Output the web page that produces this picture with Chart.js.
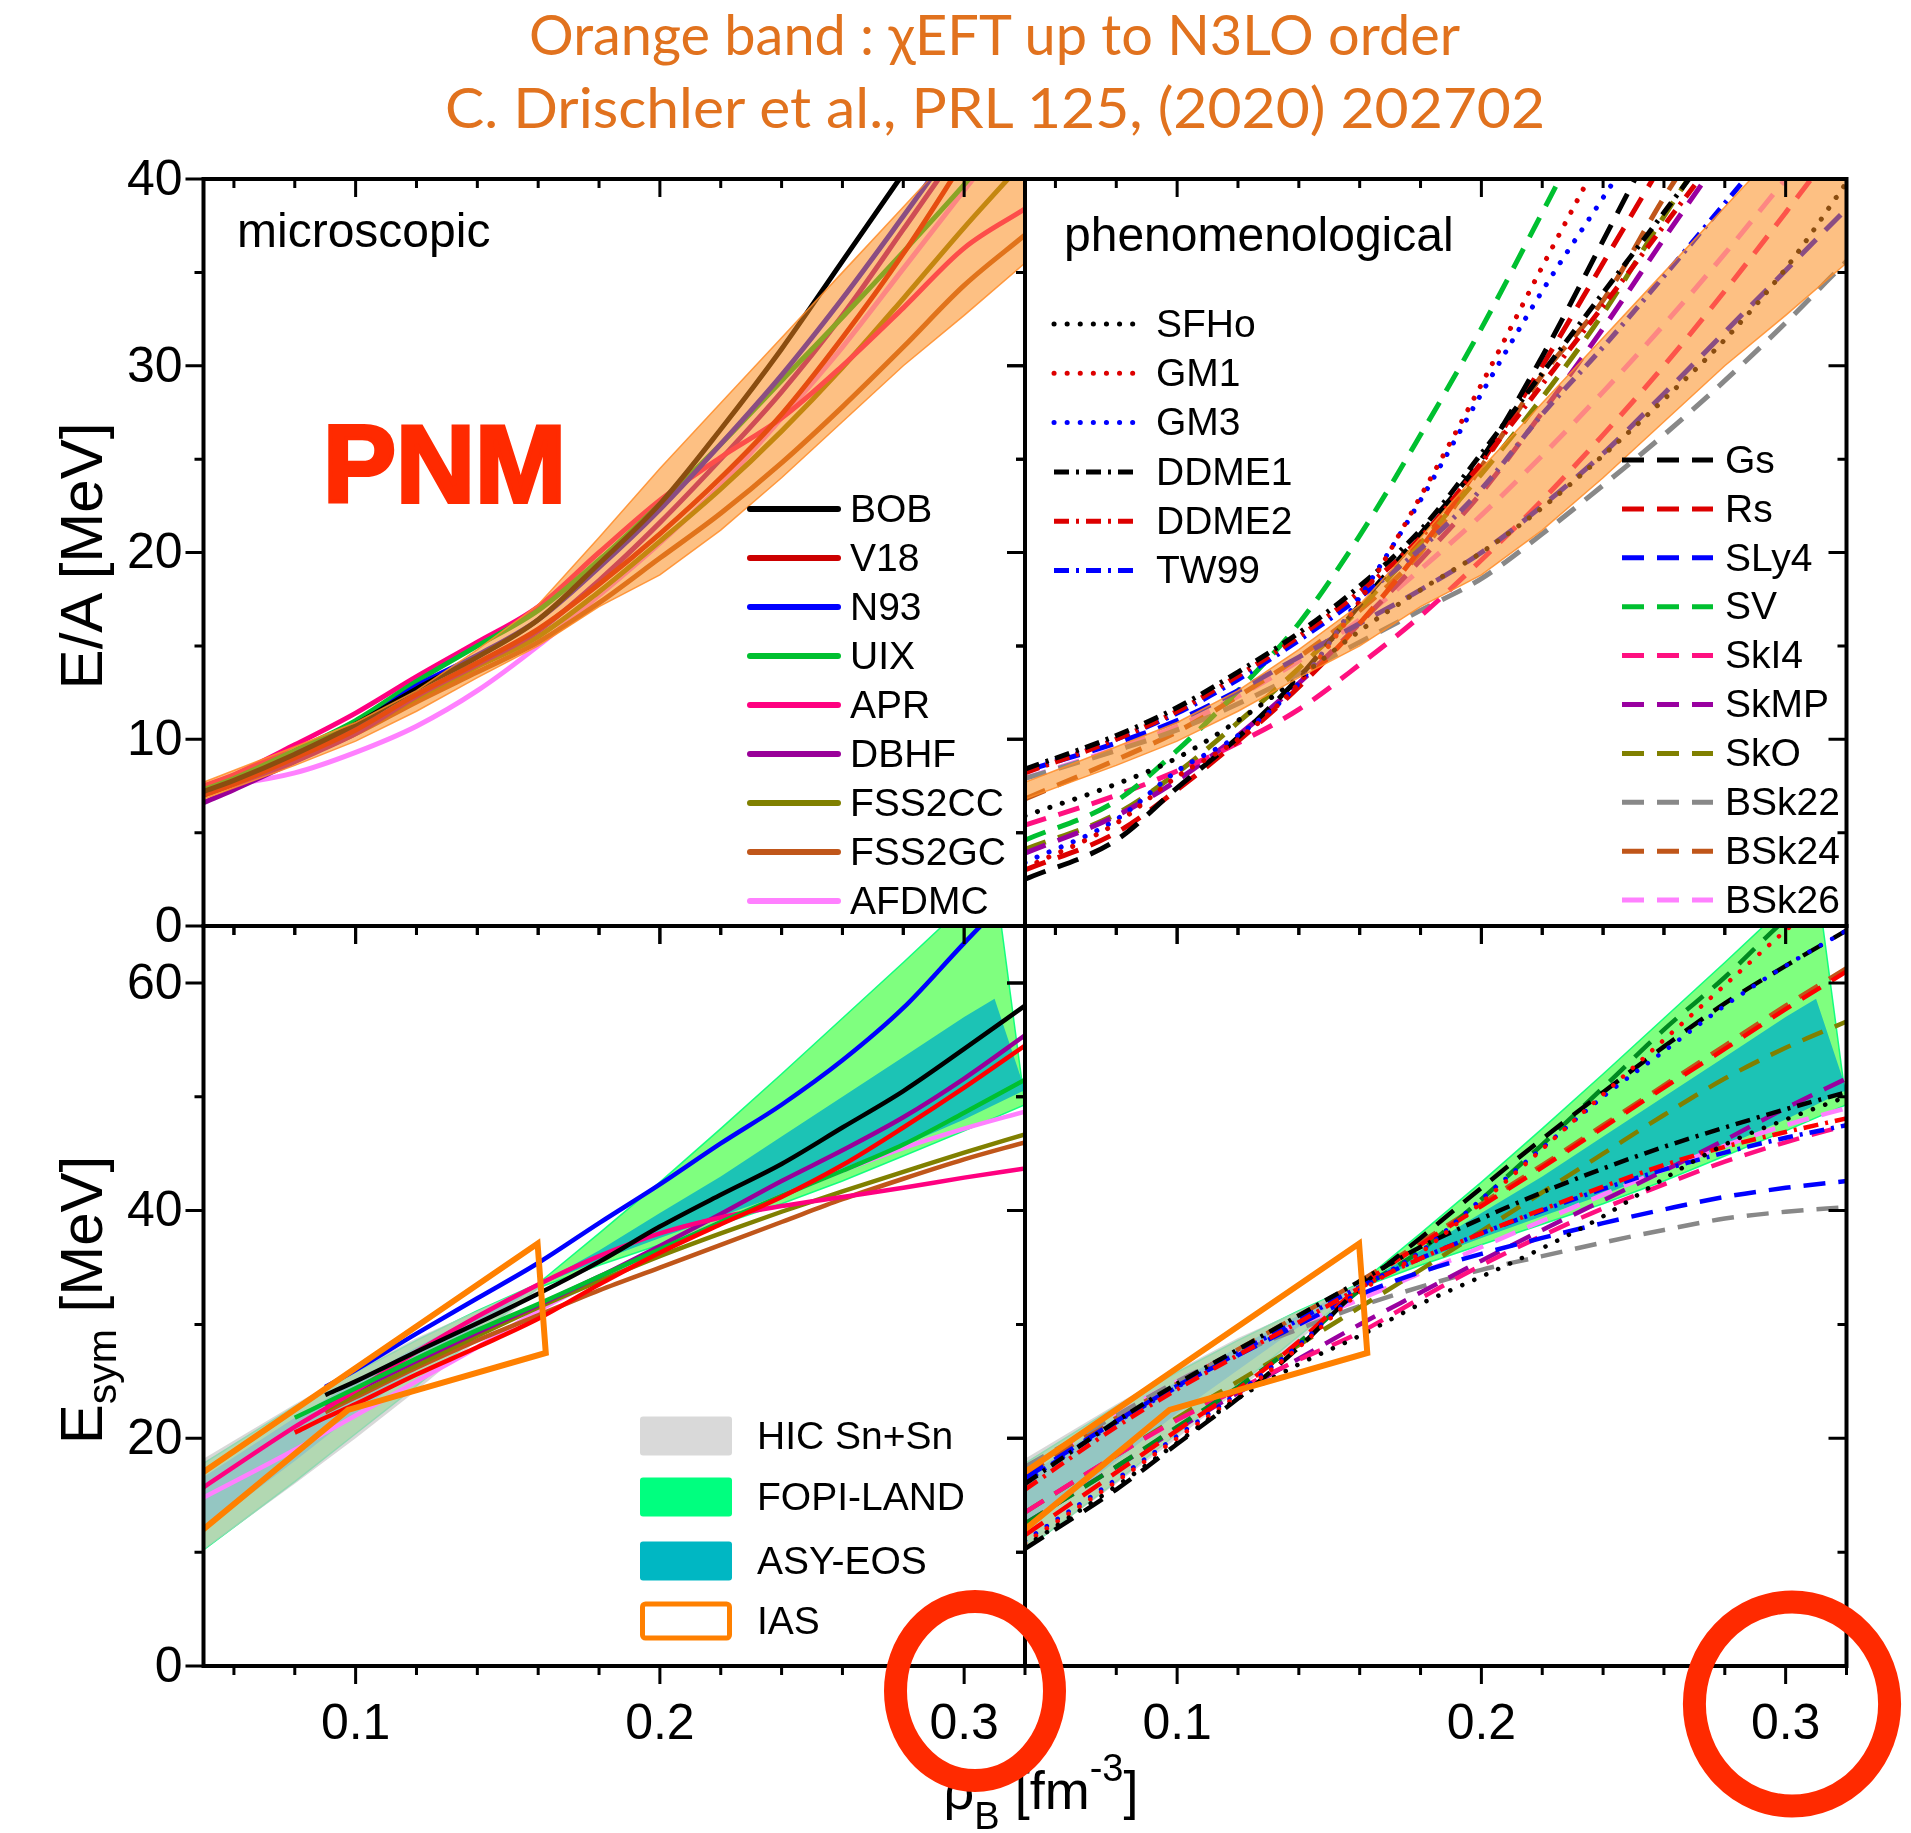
<!DOCTYPE html>
<html>
<head>
<meta charset="utf-8">
<title>PNM energy per particle and symmetry energy</title>
<script src="https://cdn.jsdelivr.net/npm/chart.js@4.4.1/dist/chart.umd.min.js"></script>
<style>
  body { margin: 0; background: #fff; }
  #page { position: relative; width: 1911px; height: 1833px; overflow: hidden; background: #fff; }
  #page canvas { position: absolute; left: 0; top: 0; }
  #overlay { position: absolute; left: 0; top: 0; pointer-events: none; }
</style>
</head>
<body>
<div id="page">
  <canvas id="tl" width="1911" height="1833"></canvas>
  <canvas id="tr" width="1911" height="1833"></canvas>
  <canvas id="bl" width="1911" height="1833"></canvas>
  <canvas id="br" width="1911" height="1833"></canvas>
  <svg id="overlay" width="1911" height="1833" viewBox="0 0 1911 1833">
    <g font-family="Lato, 'Open Sans', sans-serif" font-size="56" fill="#E1721E">
      <text x="529" y="55" textLength="931" lengthAdjust="spacingAndGlyphs">Orange band : χEFT up to N3LO order</text>
      <text x="445" y="128" textLength="1100" lengthAdjust="spacingAndGlyphs">C. Drischler et al., PRL 125, (2020) 202702</text>
    </g>
    <g font-family="'Liberation Sans', Arial, sans-serif" fill="#000">
      <text x="237" y="247" font-size="48">microscopic</text>
      <text x="1064" y="251" font-size="48">phenomenological</text>
      <text transform="translate(102,556) rotate(-90)" text-anchor="middle" font-size="60">E/A [MeV]</text>
      <text transform="translate(102,1300) rotate(-90)" text-anchor="middle" font-size="60">E<tspan dy="14" font-size="41">sym</tspan><tspan dy="-14"> [MeV]</tspan></text>
      <text x="1041" y="1809" text-anchor="middle" font-size="54">ρ<tspan dy="20" font-size="38">B</tspan><tspan dy="-20"> [fm</tspan><tspan dy="-28" font-size="38">-3</tspan><tspan dy="28">]</tspan></text>
    </g>
    <text x="323" y="502" font-family="'Liberation Sans', Arial, sans-serif" font-weight="bold" font-size="109" fill="#FF2A00" stroke="#FF2A00" stroke-width="4" textLength="243" lengthAdjust="spacingAndGlyphs">PNM</text>
    <ellipse cx="975" cy="1691" rx="79.5" ry="89.5" fill="none" stroke="#FF2A00" stroke-width="23"/>
    <ellipse cx="1792" cy="1704" rx="97.6" ry="102" fill="none" stroke="#FF2A00" stroke-width="23"/>
  </svg>
</div>

<script>
// ---- axes ----------------------------------------------------------------
const rhoMajor = [0.1, 0.2, 0.3];
const rhoMinor = [0.06, 0.08, 0.12, 0.14, 0.16, 0.18, 0.22, 0.24, 0.26, 0.28, 0.32];
const eaTicks = [0, 10, 20, 30, 40];
const eaMinor = [5, 15, 25, 35];
const esTicks = [0, 20, 40, 60];
const esMinor = [10, 30, 50];

// ---- E/A of pure neutron matter, microscopic (top left) ------------------
const rhoMic = [0.05, 0.06, 0.08, 0.10, 0.12, 0.14, 0.16, 0.18, 0.20, 0.22, 0.24, 0.26, 0.28, 0.30, 0.32];
const eaBOB    = [7.2, 7.8, 9.2, 10.8, 12.7, 14.4, 16.4, 19.4, 22.6, 26.6, 30.9, 35.6, 40.3, 45.0, 50.0];
const eaV18    = [7.0, 7.6, 9.0, 10.5, 12.4, 14.1, 15.9, 18.3, 21.0, 24.0, 27.4, 31.5, 36.0, 41.0, 46.0];
const eaN93    = [null, null, 9.2, 10.7, 12.85, 14.5, 16.4, 19.2, 22.3, 25.8, 29.5, 33.6, 38.0, 42.5, 47.0];
const eaUIX    = [7.3, 7.9, 9.4, 11.0, 13.1, 15.0, 16.9, 19.6, 22.6, 25.8, 29.2, 32.6, 36.1, 39.7, 43.5];
const eaAPR    = [7.5, 8.1, 9.7, 11.4, 13.35, 15.2, 17.1, 20.0, 22.8, 25.1, 27.2, 30.0, 33.1, 36.3, 38.4];
const eaDBHF   = [6.6, 7.3, 8.8, 10.3, 12.3, 14.0, 15.8, 18.5, 21.6, 25.0, 28.6, 32.7, 37.3, 42.0, 47.0];
const eaFSS2CC = [7.0, 7.6, 9.0, 10.4, 12.2, 13.9, 15.5, 17.9, 20.6, 23.4, 26.5, 29.9, 33.6, 37.4, 41.0];
const eaFSS2GC = [7.1, 7.6, 8.9, 10.3, 12.0, 13.6, 15.2, 17.3, 19.7, 22.1, 24.8, 27.8, 31.0, 34.3, 37.0];
const eaAFDMC  = [7.45, 7.6, 8.2, 9.3, 10.7, 12.6, 15.0, 17.7, 20.5, 23.6, 27.2, 31.0, 35.2, 39.4, 43.5];

// chiral EFT band (N3LO)
const rhoChi   = [0.05, 0.08, 0.10, 0.12, 0.14, 0.16, 0.18, 0.20, 0.22, 0.24, 0.26, 0.28, 0.30, 0.32];
const chiUpper = [7.7, 9.6, 10.9, 12.6, 14.8, 17.2, 20.8, 24.5, 28.0, 31.5, 35.0, 38.5, 42.0, 45.5];
const chiLower = [6.8, 8.6, 9.9, 11.5, 13.3, 15.0, 17.1, 18.8, 21.2, 24.0, 27.0, 30.0, 32.7, 35.5];

// ---- E/A, phenomenological (top right) ------------------------------------
const rhoPhen  = [0.05, 0.08, 0.10, 0.12, 0.14, 0.16, 0.18, 0.20, 0.22, 0.24, 0.26, 0.28, 0.30, 0.32];
const eaSFHo   = [5.9, 7.6, 9.0, 11.0, 13.3, 15.8, 18.0, 20.0, 22.4, 25.2, 28.2, 31.4, 35.2, 39.8];
const eaGM1    = [3.1, 5.5, 8.0, 10.0, 13.0, 17.4, 23.0, 29.0, 35.3, 41.5, 48.0];
const eaGM3    = [3.4, 5.7, 8.3, 10.2, 13.0, 17.6, 22.8, 28.5, 34.0, 39.0, 44.0];
const eaDDME1  = [8.4, 10.2, 11.7, 13.6, 15.7, 18.2, 21.2, 25.3, 29.6, 33.9, 38.2, 42.6];
const eaDDME2  = [8.2, 10.0, 11.5, 13.4, 15.5, 17.9, 20.8, 24.8, 29.0, 33.2, 37.5, 41.8];
const eaTW99   = [8.3, 10.0, 11.4, 13.2, 15.3, 17.6, 20.2, 23.4, 27.4, 31.0, 34.8, 38.7, 42.6];
const eaGs     = [2.5, 4.6, 7.4, 10.1, 13.3, 17.2, 21.0, 25.0, 30.5, 36.7, 43.0];
const eaRs     = [3.0, 5.0, 7.3, 9.9, 12.8, 16.2, 20.2, 24.8, 30.0, 35.5, 41.0];
const eaSLy4   = [8.3, 9.8, 11.0, 12.6, 14.4, 16.2, 18.0, 20.0, 22.5, 25.3, 28.5, 31.8, 35.1, 38.4];
const eaSV     = [4.6, 6.7, 9.4, 12.6, 16.2, 20.9, 26.3, 32.0, 38.2, 44.5];
const eaSkI4   = [5.4, 7.0, 8.3, 9.8, 11.6, 14.0, 16.6, 19.6, 22.8, 26.3, 30.0, 34.0, 38.2, 42.5];
const eaSkMP   = [3.9, 5.9, 7.8, 10.2, 13.0, 16.2, 19.6, 23.2, 27.5, 32.0, 36.8, 41.5];
const eaSkO    = [4.1, 6.0, 8.2, 10.9, 13.8, 17.0, 20.5, 24.2, 28.3, 32.8, 38.0, 43.0];
const eaBSk22  = [7.9, 9.4, 10.5, 11.9, 13.5, 15.2, 16.9, 18.6, 21.0, 23.6, 26.3, 29.2, 32.3, 35.6];
const eaBSk24  = [6.8, 8.9, 10.4, 12.3, 14.4, 16.9, 20.0, 24.6, 29.5, 33.5, 39.0, 44.0];
const eaBSk26  = [7.9, 9.5, 10.7, 12.3, 14.2, 16.4, 19.1, 22.0, 25.2, 28.6, 32.2, 36.0, 40.0, 44.0];

// ---- symmetry energy, microscopic (bottom left) ---------------------------
const rhoMicS   = [0.05, 0.08, 0.09, 0.10, 0.12, 0.14, 0.16, 0.18, 0.20, 0.22, 0.24, 0.26, 0.28, 0.30, 0.32];
const esBOB     = [null, null, 23.8, 25.0, 27.6, 30.1, 32.7, 35.5, 38.6, 41.4, 44.1, 47.3, 50.5, 54.2, 58.0];
const esV18     = [null, 20.5, 21.8, 23.0, 25.6, 28.0, 30.5, 33.5, 36.3, 38.8, 41.2, 44.0, 47.3, 50.8, 54.5];
const esN93     = [null, null, 24.5, 26.0, 29.2, 32.3, 35.4, 38.9, 42.3, 45.9, 49.3, 53.2, 57.8, 63.5, 69.0];
const esUIX     = [null, 21.8, 23.1, 24.4, 27.0, 29.5, 31.8, 34.2, 36.6, 39.0, 41.3, 43.5, 45.8, 48.6, 51.5];
const esAPR     = [15.7, 21.0, 22.6, 24.2, 27.6, 30.7, 33.5, 36.0, 38.0, 39.4, 40.4, 41.2, 42.0, 42.9, 43.7];
const esDBHF    = [null, null, 22.9, 24.2, 26.8, 29.3, 31.7, 34.2, 36.9, 39.7, 42.6, 45.3, 48.2, 51.6, 55.4];
const esFSS2CC  = [null, null, 22.5, 23.8, 26.4, 29.0, 31.5, 33.8, 36.0, 38.0, 39.9, 41.7, 43.4, 45.1, 46.7];
const esFSS2GC  = [null, null, 22.3, 23.6, 26.2, 28.6, 30.8, 33.0, 35.0, 37.0, 39.0, 41.0, 42.8, 44.5, 46.0];
const esAFDMC   = [14.8, 19.0, 20.5, 22.0, 25.0, 28.0, 31.2, 34.0, 36.6, 39.0, 41.3, 43.5, 45.5, 47.2, 48.7];

// ---- symmetry energy, phenomenological (bottom right) ---------------------
const esSFHo   = [10.5, 15.8, 19.6, 23.5, 26.5, 29.0, 31.8, 34.2, 36.7, 39.5, 42.8, 45.8, 48.0, 50.0];
const esGM1    = [10.8, 16.2, 20.0, 23.8, 28.0, 32.8, 36.3, 40.7, 45.4, 50.2, 55.0, 59.8, 64.6, 69.0];
const esGM3    = [11.0, 16.4, 20.2, 24.0, 28.2, 33.0, 36.4, 41.0, 45.5, 50.0, 54.0, 58.0, 61.5, 64.6];
const esDDME1  = [16.0, 21.5, 24.8, 27.8, 30.8, 33.8, 36.8, 39.3, 41.6, 43.7, 45.6, 47.3, 48.9, 50.4];
const esDDME2  = [15.5, 21.0, 24.3, 27.3, 30.2, 33.2, 35.8, 38.0, 40.1, 42.1, 44.0, 45.6, 46.9, 48.1];
const esTW99   = [16.2, 21.4, 24.5, 27.5, 30.4, 33.3, 35.8, 38.0, 40.0, 41.9, 43.6, 45.1, 46.4, 47.5];
const esGs     = [10.3, 15.5, 19.5, 23.5, 28.0, 33.2, 37.6, 42.0, 46.3, 50.4, 54.4, 58.2, 61.5, 64.6];
const esRs     = [11.5, 17.0, 20.7, 24.3, 28.5, 33.3, 37.0, 40.4, 43.8, 47.3, 50.8, 54.2, 57.7, 61.0];
const esSLy4   = [16.5, 21.5, 24.6, 27.3, 30.0, 32.6, 34.6, 36.2, 37.6, 38.9, 40.1, 41.2, 42.0, 42.6];
const esSV     = [12.5, 17.5, 21.0, 24.5, 28.4, 33.0, 36.5, 41.0, 45.8, 50.8, 55.9, 60.5, 65.6, 70.0];
const esSkI4   = [13.5, 18.5, 21.6, 24.3, 26.9, 29.3, 32.3, 35.2, 37.8, 40.2, 42.3, 44.3, 46.0, 47.5];
const esSkMP   = [12.5, 17.5, 20.8, 24.0, 27.0, 30.0, 32.8, 35.6, 38.3, 40.9, 43.5, 46.2, 49.0, 51.6];
const esSkO    = [13.5, 18.5, 21.8, 25.0, 28.2, 31.5, 34.8, 38.2, 41.6, 45.0, 48.4, 51.6, 54.3, 56.6];
const esBSk22  = [17.5, 22.0, 25.0, 27.5, 29.6, 31.6, 33.3, 34.8, 36.0, 37.2, 38.3, 39.3, 39.9, 40.3];
const esBSk24  = [16.8, 21.8, 24.8, 27.8, 30.8, 33.8, 37.2, 40.6, 44.0, 47.5, 51.0, 54.5, 58.0, 61.3];
const esBSk26  = [17.0, 22.0, 25.0, 27.6, 30.0, 32.2, 34.5, 36.8, 39.1, 41.4, 43.6, 45.7, 47.5, 49.0];

// ---- experimental constraints on E_sym ------------------------------------
const rhoHIC    = [0.05, 0.08, 0.10, 0.12, 0.14, 0.16];
const hicUpper  = [18.2, 23.0, 26.0, 28.8, 31.2, 33.6];
const hicLower  = [10.2, 16.0, 20.0, 24.2, 28.6, 33.0];
const rhoHiUp   = [0.05, 0.08, 0.10, 0.12, 0.14, 0.16, 0.18, 0.20, 0.22, 0.24, 0.26, 0.28, 0.30, 0.31];
const rhoHiLow  = [0.05, 0.08, 0.10, 0.12, 0.14, 0.16, 0.18, 0.20, 0.22, 0.24, 0.26, 0.28, 0.30, 0.32];
const fopiUpper = [17.8, 22.8, 25.8, 28.6, 31.2, 33.6, 38.0, 42.5, 47.2, 52.0, 56.9, 61.8, 66.8, 69.5];
const fopiLower = [10.2, 16.2, 20.4, 24.6, 29.0, 33.2, 35.2, 37.0, 38.8, 40.6, 42.6, 44.8, 47.0, 49.3];
const asyUpper  = [16.6, 21.8, 25.0, 28.0, 30.8, 33.5, 36.5, 39.8, 43.0, 46.5, 50.0, 53.5, 57.0, 58.6];
const asyLower  = [12.0, 18.0, 22.2, 26.0, 29.8, 33.4, 35.6, 37.6, 39.5, 41.4, 43.5, 45.7, 48.0, 50.6];
// IAS contour, vertices in drawing order
const rhoIAS    = [0.04, 0.1598, 0.1625, 0.0975, 0.04, 0.04];
const esIAS     = [15.2, 37.1, 27.5, 22.5, 9.8, 15.2];

// ---- helpers --------------------------------------------------------------
const W = 1911, H = 1833;
const DOT = [0.1, 13], DASH = [22, 13], DASHDOT = [15, 7, 3, 7];

function pts(xs, ys) {
  const out = [];
  ys.forEach((y, i) => { if (y !== null && y !== undefined) out.push({ x: xs[i], y }); });
  return out;
}
function ring(xu, up, xl, low) {
  return pts(xu, up).concat(pts(xl, low).reverse());
}
function curve(label, xs, ys, color, dash, width) {
  dash = dash || [];
  return {
    label, data: pts(xs, ys),
    borderColor: color, borderWidth: width || 5, borderDash: dash,
    borderCapStyle: dash === DOT ? 'round' : 'butt', borderJoinStyle: 'round',
    pointRadius: 0, fill: false, cubicInterpolationMode: 'monotone',
    order: 10, clip: 0
  };
}
function band(label, poly, fillColor, edgeColor, edgeWidth, order) {
  return {
    label, data: poly, backgroundColor: fillColor,
    borderColor: edgeColor, borderWidth: edgeWidth, fill: 'shape',
    pointRadius: 0, tension: 0, order, clip: 0
  };
}

// per-panel decoration, kept outside the chart options
const DECOR = {
  tl: {
    yMajor: eaTicks, yMinor: eaMinor, yLabels: true,
    legends: [{ x0: 750, x1: 838, tx: 850, y0: 509, dy: 49, width: 6,
      items: ['BOB', 'V18', 'N93', 'UIX', 'APR', 'DBHF', 'FSS2CC', 'FSS2GC', 'AFDMC'] }]
  },
  tr: {
    yMajor: eaTicks, yMinor: eaMinor,
    legends: [
      { x0: 1054, x1: 1136, tx: 1156, y0: 324, dy: 49.3, width: 5,
        items: ['SFHo', 'GM1', 'GM3', 'DDME1', 'DDME2', 'TW99'] },
      { x0: 1622, x1: 1713, tx: 1725, y0: 460, dy: 48.9, width: 5,
        items: ['Gs', 'Rs', 'SLy4', 'SV', 'SkI4', 'SkMP', 'SkO', 'BSk22', 'BSk24', 'BSk26'] }
    ]
  },
  bl: {
    yMajor: esTicks, yMinor: esMinor, yLabels: true, xLabels: true,
    swatches: { x0: 640, w: 92, h: 39, tx: 757, y0: [1436, 1497, 1561, 1621],
      items: [
        { label: 'HIC Sn+Sn', color: '#D9D9D9', outline: false },
        { label: 'FOPI-LAND', color: '#00FF7F', outline: false },
        { label: 'ASY-EOS', color: '#00B7C3', outline: false },
        { label: 'IAS', color: '#FF8000', outline: true }
      ] }
  },
  br: { yMajor: esTicks, yMinor: esMinor, xLabels: true }
};

// frame, inward/outward ticks, tick labels and the hand-placed legends
const panelDecor = {
  id: 'panelDecor',
  afterDraw(chart) {
    const o = DECOR[chart.canvas.id];
    const { ctx, chartArea: a } = chart;
    const sx = chart.scales.x, sy = chart.scales.y;
    ctx.save();
    ctx.strokeStyle = '#000';
    ctx.lineWidth = 3;
    const xTick = (v, len) => {
      const px = sx.getPixelForValue(v);
      ctx.beginPath();
      ctx.moveTo(px, a.bottom); ctx.lineTo(px, a.bottom + len);
      ctx.moveTo(px, a.top); ctx.lineTo(px, a.top + len);
      ctx.stroke();
    };
    const yTick = (v, len) => {
      const py = sy.getPixelForValue(v);
      ctx.beginPath();
      ctx.moveTo(a.left, py); ctx.lineTo(a.left - len, py);
      ctx.moveTo(a.right, py); ctx.lineTo(a.right - len, py);
      ctx.stroke();
    };
    rhoMajor.forEach(v => xTick(v, 18));
    rhoMinor.forEach(v => xTick(v, 9));
    o.yMajor.forEach(v => yTick(v, 18));
    o.yMinor.forEach(v => yTick(v, 9));
    ctx.lineWidth = 4;
    ctx.strokeRect(a.left, a.top, a.right - a.left, a.bottom - a.top);

    ctx.fillStyle = '#000';
    ctx.font = '50px "Liberation Sans", Arial, sans-serif';
    if (o.yLabels) {
      ctx.textAlign = 'right'; ctx.textBaseline = 'middle';
      o.yMajor.forEach(v => ctx.fillText(String(v), a.left - 21, sy.getPixelForValue(v) + 2));
    }
    if (o.xLabels) {
      ctx.textAlign = 'center'; ctx.textBaseline = 'alphabetic';
      rhoMajor.forEach(v => ctx.fillText(v.toFixed(1), sx.getPixelForValue(v), a.bottom + 73));
    }

    ctx.font = '39px "Liberation Sans", Arial, sans-serif';
    ctx.textAlign = 'left'; ctx.textBaseline = 'middle';
    (o.legends || []).forEach(L => {
      L.items.forEach((name, i) => {
        const ds = chart.data.datasets.find(d => d.label === name);
        const yy = L.y0 + i * L.dy;
        ctx.save();
        ctx.strokeStyle = ds.borderColor;
        ctx.lineWidth = L.width;
        ctx.setLineDash(ds.borderDash || []);
        ctx.lineCap = (ds.borderDash && ds.borderDash.length) ? ds.borderCapStyle : 'round';
        ctx.beginPath(); ctx.moveTo(L.x0, yy); ctx.lineTo(L.x1, yy); ctx.stroke();
        ctx.restore();
        ctx.fillText(name, L.tx, yy + 2);
      });
    });
    if (o.swatches) {
      const S = o.swatches;
      S.items.forEach((it, i) => {
        const yy = S.y0[i];
        ctx.save();
        ctx.beginPath();
        if (it.outline) {
          ctx.strokeStyle = it.color; ctx.lineWidth = 5;
          ctx.roundRect(S.x0 + 2.5, yy - S.h / 2 + 2.5, S.w - 5, S.h - 5, 3);
          ctx.stroke();
        } else {
          ctx.fillStyle = it.color;
          ctx.roundRect(S.x0, yy - S.h / 2, S.w, S.h, 3);
          ctx.fill();
        }
        ctx.restore();
        ctx.fillText(it.label, S.tx, yy + 2);
      });
    }
    ctx.restore();
  }
};

function makePanel(id, box, yMax, datasets) {
  return new Chart(document.getElementById(id), {
    type: 'line',
    data: { datasets },
    options: {
      responsive: false, animation: false, events: [], devicePixelRatio: 1,
      layout: { padding: { left: box.l, top: box.t, right: W - box.r, bottom: H - box.b } },
      scales: {
        x: { type: 'linear', min: 0.05, max: 0.32, display: false },
        y: { type: 'linear', min: 0, max: yMax, display: false }
      },
      plugins: { legend: { display: false }, tooltip: { enabled: false } }
    },
    plugins: [panelDecor]
  });
}

const chiBand = () => band('chiEFT', ring(rhoChi, chiUpper, rhoChi, chiLower),
  'rgba(252,140,30,0.55)', 'rgba(255,140,40,0.85)', 1.5, 0);

// ---- top left -------------------------------------------------------------
makePanel('tl', { l: 203.5, t: 179, r: 1025, b: 926 }, 40, [
  curve('BOB', rhoMic, eaBOB, '#000000'),
  curve('V18', rhoMic, eaV18, '#CC0000'),
  curve('N93', rhoMic, eaN93, '#0000FF'),
  curve('UIX', rhoMic, eaUIX, '#00C030'),
  curve('APR', rhoMic, eaAPR, '#FF0080'),
  curve('DBHF', rhoMic, eaDBHF, '#990099'),
  curve('FSS2CC', rhoMic, eaFSS2CC, '#808000'),
  curve('FSS2GC', rhoMic, eaFSS2GC, '#C0561A'),
  curve('AFDMC', rhoMic, eaAFDMC, '#FF80FF'),
  chiBand()
]);

// ---- top right ------------------------------------------------------------
makePanel('tr', { l: 1025, t: 179, r: 1846.5, b: 926 }, 40, [
  curve('SFHo', rhoPhen, eaSFHo, '#000000', DOT),
  curve('GM1', rhoPhen, eaGM1, '#DD0000', DOT),
  curve('GM3', rhoPhen, eaGM3, '#0000FF', DOT),
  curve('DDME1', rhoPhen, eaDDME1, '#000000', DASHDOT),
  curve('DDME2', rhoPhen, eaDDME2, '#DD0000', DASHDOT),
  curve('TW99', rhoPhen, eaTW99, '#0000FF', DASHDOT),
  curve('Gs', rhoPhen, eaGs, '#000000', DASH),
  curve('Rs', rhoPhen, eaRs, '#DD0000', DASH),
  curve('SLy4', rhoPhen, eaSLy4, '#0000FF', DASH),
  curve('SV', rhoPhen, eaSV, '#00C030', DASH),
  curve('SkI4', rhoPhen, eaSkI4, '#FF1080', DASH),
  curve('SkMP', rhoPhen, eaSkMP, '#9900A0', DASH),
  curve('SkO', rhoPhen, eaSkO, '#808000', DASH),
  curve('BSk22', rhoPhen, eaBSk22, '#888888', DASH),
  curve('BSk24', rhoPhen, eaBSk24, '#C0561A', DASH),
  curve('BSk26', rhoPhen, eaBSk26, '#FF80FF', DASH),
  chiBand()
]);

// ---- constraint bands shared by both E_sym panels --------------------------
function constraintBands() {
  return [
    band('FOPI-LAND', ring(rhoHiUp, fopiUpper, rhoHiLow, fopiLower), 'rgba(0,255,0,0.5)', 'rgba(0,255,120,0.9)', 1.5, 30),
    band('ASY-EOS', ring(rhoHiUp, asyUpper, rhoHiLow, asyLower), 'rgba(10,185,190,0.85)', 'rgba(0,0,0,0)', 1, 29),
    band('HIC Sn+Sn', ring(rhoHIC, hicUpper, rhoHIC, hicLower), 'rgba(200,200,200,0.7)', 'rgba(0,0,0,0)', 1, 28),
    { label: 'IAS', data: pts(rhoIAS, esIAS), borderColor: '#FF8000', borderWidth: 6,
      borderJoinStyle: 'miter', pointRadius: 0, fill: false, tension: 0, order: 0, clip: 0 }
  ];
}

// ---- bottom left ----------------------------------------------------------
makePanel('bl', { l: 203.5, t: 926, r: 1025, b: 1666 }, 65, [
  ...constraintBands(),
  curve('BOB', rhoMicS, esBOB, '#000000', null, 4.5),
  curve('V18', rhoMicS, esV18, '#FF0000', null, 4.5),
  curve('N93', rhoMicS, esN93, '#0000FF', null, 4.5),
  curve('UIX', rhoMicS, esUIX, '#00C030', null, 4.5),
  curve('APR', rhoMicS, esAPR, '#FF0080', null, 4.5),
  curve('DBHF', rhoMicS, esDBHF, '#990099', null, 4.5),
  curve('FSS2CC', rhoMicS, esFSS2CC, '#808000', null, 4.5),
  curve('FSS2GC', rhoMicS, esFSS2GC, '#C0561A', null, 4.5),
  curve('AFDMC', rhoMicS, esAFDMC, '#FF80FF', null, 4.5)
]);

// ---- bottom right ---------------------------------------------------------
makePanel('br', { l: 1025, t: 926, r: 1846.5, b: 1666 }, 65, [
  ...constraintBands(),
  curve('SFHo', rhoPhen, esSFHo, '#000000', DOT, 4.5),
  curve('GM1', rhoPhen, esGM1, '#FF0000', DOT, 4.5),
  curve('GM3', rhoPhen, esGM3, '#0000FF', DOT, 4.5),
  curve('DDME1', rhoPhen, esDDME1, '#000000', DASHDOT, 4.5),
  curve('DDME2', rhoPhen, esDDME2, '#FF0000', DASHDOT, 4.5),
  curve('TW99', rhoPhen, esTW99, '#0000FF', DASHDOT, 4.5),
  curve('Gs', rhoPhen, esGs, '#000000', DASH, 4.5),
  curve('Rs', rhoPhen, esRs, '#FF0000', DASH, 4.5),
  curve('SLy4', rhoPhen, esSLy4, '#0000FF', DASH, 4.5),
  curve('SV', rhoPhen, esSV, '#008A20', DASH, 4.5),
  curve('SkI4', rhoPhen, esSkI4, '#FF1080', DASH, 4.5),
  curve('SkMP', rhoPhen, esSkMP, '#9900A0', DASH, 4.5),
  curve('SkO', rhoPhen, esSkO, '#808000', DASH, 4.5),
  curve('BSk22', rhoPhen, esBSk22, '#888888', DASH, 4.5),
  curve('BSk24', rhoPhen, esBSk24, '#C0561A', DASH, 4.5),
  curve('BSk26', rhoPhen, esBSk26, '#FF80FF', DASH, 4.5)
]);
</script>
</body>
</html>
